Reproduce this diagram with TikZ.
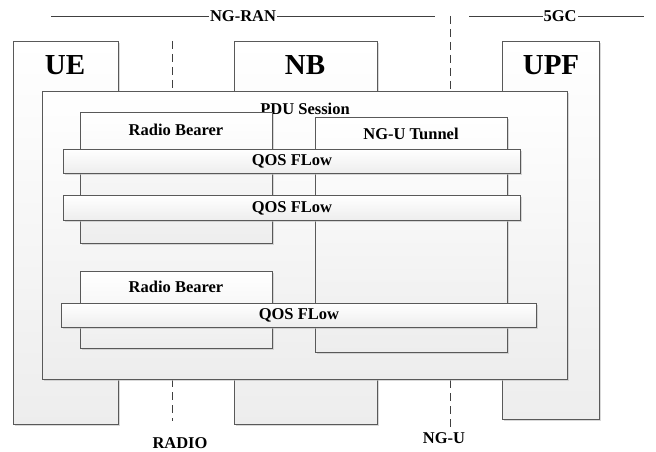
\documentclass[tikz,border=0pt]{standalone}
\usepackage{fontspec}
\setmainfont{Liberation Serif}
\usetikzlibrary{shadows}

\begin{document}
\begin{tikzpicture}[x=1pt,y=-1pt,
        box/.style={draw=black!65, line width=0.8pt, inner sep=0pt, anchor=north west,
            top color=white, bottom color=black!7,
            drop shadow={shadow xshift=1.5pt, shadow yshift=-1.5pt, fill=black!25, opacity=.6}},
        bigtext/.style={font=\bfseries\fontsize{29}{29}\selectfont, inner sep=0pt},
        midtext/.style={font=\bfseries\fontsize{16.5}{16.5}\selectfont, text=black, inner sep=0pt},
        split/.style={draw=black!75, line width=0.9pt, dash pattern=on 8pt off 5pt}]

    \useasboundingbox (0,0) rectangle (656,452);

    % domains on top
    \coordinate (ranl) at (51,16);
    \coordinate (ranr) at (435,16);
    \coordinate (cnl) at (469,16);
    \coordinate (cnr) at (644,16);
    \draw[black!75, line width=0.9pt] (ranl) -- (ranr) node[midtext, midway, fill=white, inner xsep=1pt] (ran) {NG-RAN};
    \draw[black!75, line width=0.9pt] (cnl) -- (cnr) node[midtext, pos=0.52, fill=white, inner xsep=1pt] (cn) {5GC};

    % interfaces
    \coordinate (radiot) at (172,41);
    \coordinate (radiob) at (172,421);
    \coordinate (ngut) at (450,16);
    \coordinate (ngub) at (450,428);
    \draw[split] (radiot) -- (radiob);
    \draw[split] (ngut) -- (ngub);
    \node[midtext] (radio) at (180,443) {RADIO};
    \node[midtext] (ngu) at (444,438) {NG-U};

    % network entities
    \node[box, minimum width=105pt, minimum height=383pt] (ue) at (13,41) {};
    \node[box, minimum width=143pt, minimum height=383pt] (nb) at (234,41) {};
    \node[box, minimum width=97pt, minimum height=378pt] (upf) at (502,41) {};
    \node[bigtext] (uetext) at (65,65) {UE};
    \node[bigtext] (nbtext) at (305,65) {NB};
    \node[bigtext] (upftext) at (551,65) {UPF};

    % session
    \node[box, minimum width=525pt, minimum height=288pt] (pdu) at (42,91) {};
    \node[midtext] (pdutext) at (305,109) {PDU Session};

    \node[box, minimum width=192pt, minimum height=131pt] (rb1) at (80,112) {};
    \node[midtext] (rb1text) at (176,130) {Radio Bearer};
    \node[box, minimum width=192pt, minimum height=235pt] (tunnel) at (315,117) {};
    \node[midtext] (tunneltext) at (411,134) {NG-U Tunnel};
    \node[box, minimum width=192pt, minimum height=77pt] (rb2) at (80,271) {};
    \node[midtext] (rb2text) at (176,287) {Radio Bearer};

    % flows
    \node[box, minimum width=457pt, minimum height=24pt] (qos1) at (63,149) {};
    \node[midtext] at (qos1.center) {QOS FLow};
    \node[box, minimum width=457pt, minimum height=25pt] (qos2) at (63,195) {};
    \node[midtext] at (qos2.center) {QOS FLow};
    \node[box, minimum width=475pt, minimum height=24pt] (qos3) at (61,303) {};
    \node[midtext] at (qos3.center) {QOS FLow};

\end{tikzpicture}
\end{document}
